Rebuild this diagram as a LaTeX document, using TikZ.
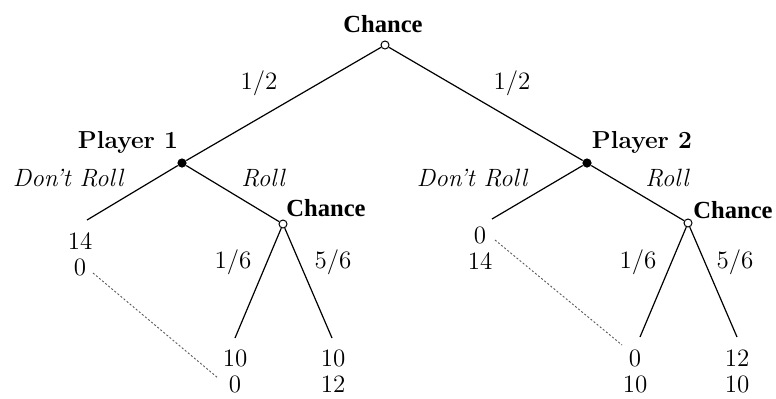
\documentclass[tikz,border=0pt]{standalone}
\usepackage{fontspec}
\newfontfamily\chancefont{Liberation Serif}
\begin{document}
\begin{tikzpicture}[x=0.5pt,y=-0.5pt,
  every node/.style={font=\fontsize{12.5}{13}\selectfont, inner sep=0pt},
  chnode/.style={circle, draw, fill=white, line width=0.5pt, minimum size=4pt},
  plnode/.style={circle, fill=black, minimum size=4.6pt},
  chlabel/.style={font=\fontsize{12.3}{13}\selectfont\chancefont\bfseries},
  pllabel/.style={font=\fontsize{12.3}{13}\selectfont\bfseries},
  actlabel/.style={font=\fontsize{12.5}{13}\selectfont\itshape},
  leaf/.style={align=center, anchor=north},
  edge/.style={line width=0.6pt},
  infoset/.style={dash pattern=on 1pt off 1pt, black!65, line width=0.45pt}]
\useasboundingbox (0,0) rectangle (776,398);
% decision nodes
\node[chnode] (c0) at (385,45) {};
\node[plnode] (p1) at (182,163) {};
\node[plnode] (p2) at (587,163) {};
\node[chnode] (c1) at (283,224) {};
\node[chnode] (c2) at (688,223) {};
% line ends
\coordinate (e1) at (87,220);
\coordinate (e2) at (235,338);
\coordinate (e3) at (332,338);
\coordinate (e4) at (492,219);
\coordinate (e5) at (640,337);
\coordinate (e6) at (737,337);
% node labels
\node[chlabel] (t0) at (383,24) {Chance};
\node[pllabel] (t1) at (128,142) {Player 1};
\node[pllabel] (t2) at (642,142) {Player 2};
\node[chlabel] (t3) at (326,208) {Chance};
\node[chlabel] (t4) at (733,210) {Chance};
% edge labels
\node (h1) at (259,83) {1/2};
\node (h2) at (512,83) {1/2};
\node[actlabel] (a1) at (68,178) {Don't Roll};
\node[actlabel] (a2) at (263,178) {Roll};
\node[actlabel] (a3) at (472,178) {Don't Roll};
\node[actlabel] (a4) at (667,178) {Roll};
\node (s1) at (233,262) {1/6};
\node (s2) at (333,262) {5/6};
\node (s3) at (638,262) {1/6};
\node (s4) at (735,262) {5/6};
% payoffs
\node[leaf] (l1) at (80,232) {14\\0};
\node[leaf] (l2) at (235,349) {10\\0};
\node[leaf] (l3) at (333,349) {10\\12};
\node[leaf] (r1) at (480,226) {0\\14};
\node[leaf] (r2) at (635,349) {0\\10};
\node[leaf] (r3) at (737,349) {12\\10};
% edges
\draw[edge] (c0) -- (p1);
\draw[edge] (c0) -- (p2);
\draw[edge] (p1) -- (e1);
\draw[edge] (p1) -- (c1);
\draw[edge] (c1) -- (e2);
\draw[edge] (c1) -- (e3);
\draw[edge] (p2) -- (e4);
\draw[edge] (p2) -- (c2);
\draw[edge] (c2) -- (e5);
\draw[edge] (c2) -- (e6);
% information sets
\coordinate (d1) at (93,273);
\coordinate (d2) at (218,378);
\coordinate (d3) at (495,240);
\coordinate (d4) at (622,345);
\draw[infoset] (d1) -- (d2);
\draw[infoset] (d3) -- (d4);
\end{tikzpicture}
\end{document}
